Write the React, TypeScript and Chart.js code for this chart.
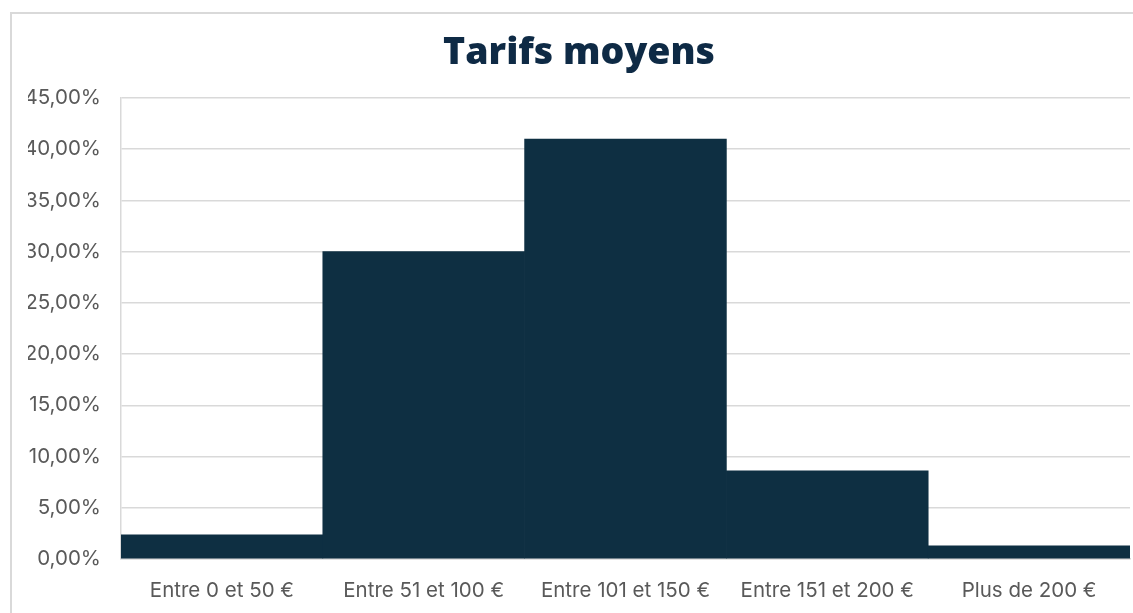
import React, { useEffect, useRef } from "react";
import { Chart, registerables } from "chart.js";

Chart.register(...registerables);

const categories = ["Entre 0 et 50 €", "Entre 51 et 100 €", "Entre 101 et 150 €", "Entre 151 et 200 €", "Plus de 200 €"];
const values = [2.35, 30.0, 41.0, 8.6, 1.28];
const yTicks = [0, 5, 10, 15, 20, 25, 30, 35, 40, 45];
const titleText = "Tarifs moyens";

const CANVAS_W = 1134;
const CANVAS_H = 599;

export default function App() {
  const ref = useRef<HTMLCanvasElement | null>(null);
  useEffect(() => {
    const canvas = ref.current;
    if (!canvas) return;
    const chart = new Chart(canvas, {
      type: "bar",
      data: {
        labels: categories,
        datasets: [
          {
            data: values,
            backgroundColor: "#0e2f42",
            borderWidth: 0,
            barPercentage: 1,
            categoryPercentage: 1,
          },
        ],
      },
      options: {
        responsive: false,
        animation: false,
        maintainAspectRatio: false,
        layout: { padding: { left: 16, right: 16, top: 0, bottom: 0 } },
        plugins: {
          legend: { display: false },
          tooltip: { enabled: false },
          title: {
            display: true,
            text: titleText,
            color: "#0e2a45",
            font: { family: "'Open Sans', sans-serif", size: 37.5, weight: "800", lineHeight: 1.2 },
            padding: { top: 17, bottom: 22 },
          },
        },
        scales: {
          x: {
            grid: { display: false, drawTicks: false },
            border: { display: true, color: "#d9d9d9", width: 1.5 },
            ticks: {
              color: "#595959",
              font: { family: "Inter, 'Open Sans', sans-serif", size: 20.5 },
              padding: 20,
              maxRotation: 0,
              autoSkip: false,
            },
            afterFit: (scale: any) => {
              scale.height = CANVAS_H - 545;
            },
          },
          y: {
            min: 0,
            max: 45,
            afterBuildTicks: (scale: any) => {
              scale.ticks = yTicks.map((v) => ({ value: v }));
            },
            grid: { color: "#d9d9d9", lineWidth: 1.5, drawTicks: false },
            border: { display: true, color: "#d9d9d9", width: 1.5 },
            ticks: {
              color: "#595959",
              font: { family: "Inter, 'Open Sans', sans-serif", size: 20.5 },
              padding: 20,
              callback: (v: any) => Number(v).toFixed(2).replace(".", ",") + "%",
            },
            afterFit: (scale: any) => {
              scale.width = 93;
            },
          },
        },
      },
    });
    return () => chart.destroy();
  }, []);

  return (
    <div
      style={{
        position: "fixed",
        left: 0,
        top: 0,
        width: 1133,
        height: 613,
        overflow: "hidden",
        background: "#ffffff",
      }}
    >
      <div
        style={{
          position: "absolute",
          left: 10,
          top: 12,
          width: 1140,
          height: 640,
          border: "2px solid #d9d9d9",
          boxSizing: "border-box",
        }}
      >
        <canvas ref={ref} width={CANVAS_W} height={CANVAS_H} style={{ display: "block", width: CANVAS_W, height: CANVAS_H }} />
      </div>
    </div>
  );
}
